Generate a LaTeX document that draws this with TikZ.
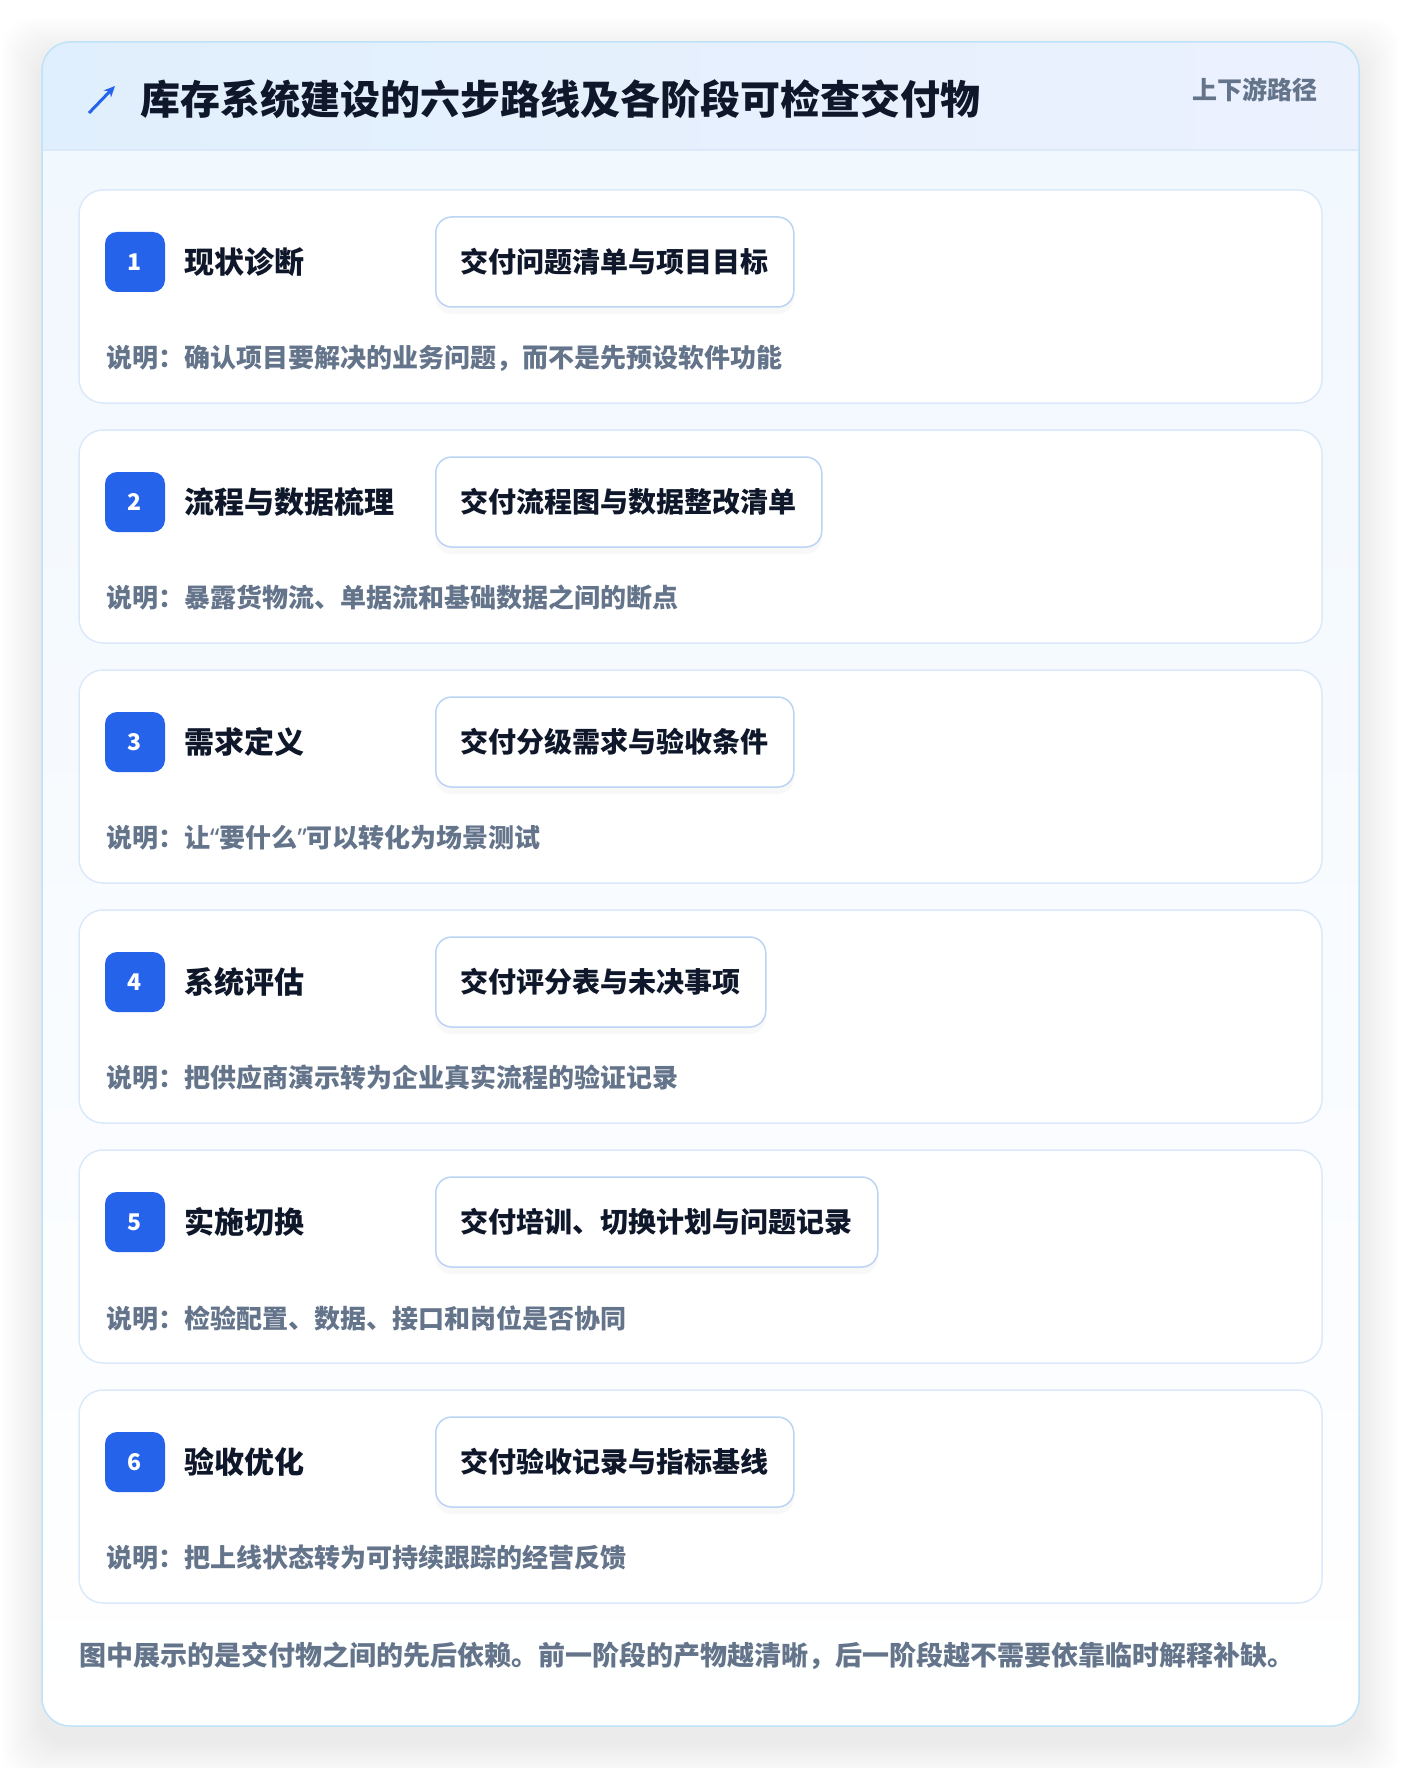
\documentclass[tikz,border=0pt]{standalone}
\usepackage{fontspec}
\setmainfont{Noto Sans CJK SC}
\newfontfamily\quotefont{Noto Sans}
\usetikzlibrary{arrows.meta,shadows}

\definecolor{badgeblue}{HTML}{2563EB}
\definecolor{inkdark}{HTML}{0F172A}
\definecolor{inkgray}{HTML}{64748B}
\definecolor{cardline}{HTML}{DCE9FA}
\definecolor{boxline}{HTML}{BCD4F4}
\definecolor{outerline}{HTML}{BEE3F8}
\definecolor{headleft}{HTML}{E0EFFD}
\definecolor{headright}{HTML}{ECF1FE}
\definecolor{bodytop}{HTML}{F0F7FE}

\tikzset{
  stepcard/.style={draw=cardline, line width=1.5pt, fill=white, rounded corners=24pt},
  badge/.style={fill=badgeblue, text=white, rounded corners=12pt, minimum width=60pt,
    minimum height=60pt, inner sep=0pt, font=\fontsize{23}{23}\selectfont\bfseries},
  steptitle/.style={anchor=west, text=inkdark, inner sep=0pt, font=\fontsize{30}{30}\selectfont\bfseries},
  delivbox/.style={anchor=west, draw=boxline, line width=1.5pt, fill=white, rounded corners=16pt,
    minimum height=90pt, inner xsep=25pt, text=inkdark, font=\fontsize{28}{28}\selectfont\bfseries,
    drop shadow={shadow xshift=0pt, shadow yshift=-7pt, opacity=0.05}},
  desctext/.style={anchor=west, text=inkgray, inner sep=0pt, font=\fontsize{26}{26}\selectfont\bfseries},
}

\begin{document}
\begin{tikzpicture}[x=1pt, y=-1pt]
  \useasboundingbox (0,0) rectangle (1400,1768);
  \fill[white] (0,0) rectangle (1400,1768);

  % Soft shadow round the outer card
  \foreach \s in {2,4,...,40}
    \fill[black, opacity=0.0045, rounded corners=28pt] (42-\s,42-\s+16) rectangle (1359+\s,1726+\s+16);

  % Outer card and header band
  \shade[top color=bodytop, bottom color=white, rounded corners=28pt] (42,42) rectangle (1359,1726);
  \begin{scope}
    \clip[rounded corners=28pt] (42,42) rectangle (1359,1726);
    \shade[left color=headleft, right color=headright] (42,42) rectangle (1359,150);
  \end{scope}
  \draw[cardline, line width=1.5pt] (42,150) -- (1359,150);
  \draw[outerline, line width=1.5pt, rounded corners=28pt] (42,42) rectangle (1359,1726);

  % Header
  \coordinate (icontail) at (89,113);
  \coordinate (iconhead) at (115,86);
  \draw[badgeblue, line width=3pt, -{Stealth[length=11pt,width=10pt]}] (icontail) -- (iconhead);
  \node[anchor=west, inner sep=0pt, text=inkdark, font=\fontsize{40}{40}\selectfont\bfseries]
    (title) at (140,99) {库存系统建设的六步路线及各阶段可检查交付物};
  \node[anchor=east, inner sep=0pt, text=inkgray, font=\fontsize{25}{25}\selectfont\bfseries]
    (tag) at (1318,90) {上下游路径};

  % Six steps
  \foreach \i/\name/\deliv/\desc in {
      1/{现状诊断}/{交付问题清单与项目目标}/{说明：确认项目要解决的业务问题，而不是先预设软件功能},
      2/{流程与数据梳理}/{交付流程图与数据整改清单}/{说明：暴露货物流、单据流和基础数据之间的断点},
      3/{需求定义}/{交付分级需求与验收条件}/{说明：让{\quotefont“}要什么{\quotefont”}可以转化为场景测试},
      4/{系统评估}/{交付评分表与未决事项}/{说明：把供应商演示转为企业真实流程的验证记录},
      5/{实施切换}/{交付培训、切换计划与问题记录}/{说明：检验配置、数据、接口和岗位是否协同},
      6/{验收优化}/{交付验收记录与指标基线}/{说明：把上线状态转为可持续跟踪的经营反馈}} {
    \pgfmathsetmacro{\top}{190+(\i-1)*240}
    \draw[stepcard] (79,\top) rectangle (1322,\top+213);
    \node[badge] (badge\i) at (135,\top+72) {\i};
    \node[steptitle] (name\i) at (184,\top+72) {\name};
    \node[delivbox] (deliv\i) at (435,\top+72) {\deliv};
    \node[desctext] (desc\i) at (106,\top+168) {\desc};
  }

  % Footer note
  \node[anchor=west, inner sep=0pt, text=inkgray, font=\fontsize{27}{27}\selectfont\bfseries]
    (note) at (79,1656) {图中展示的是交付物之间的先后依赖。前一阶段的产物越清晰，后一阶段越不需要依靠临时解释补缺。};
\end{tikzpicture}
\end{document}
